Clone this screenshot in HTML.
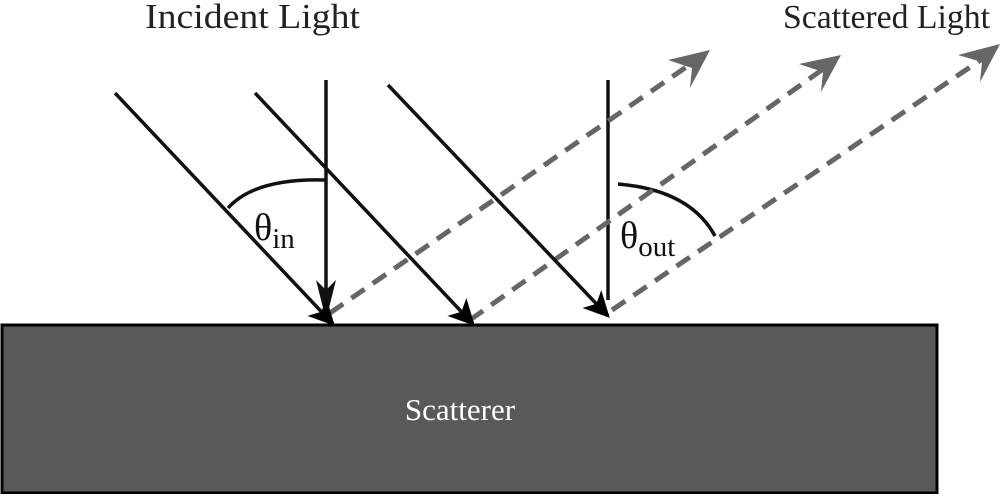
<!DOCTYPE html>
<html><head><style>body{margin:0;background:#fff}</style></head><body>
<svg width="1000" height="494" viewBox="0 0 1000 494" xmlns="http://www.w3.org/2000/svg">
<defs>
<marker id="b" viewBox="0 0 20 20" refX="18" refY="10" markerWidth="30" markerHeight="26" orient="auto" markerUnits="userSpaceOnUse"><path d="M0,0 L20,10 L0,20 L5,10 z" fill="#000"/></marker>
</defs>
<rect x="2" y="325" width="935" height="168" fill="#58595b" stroke="#000" stroke-width="3"/>
<text x="460" y="420" font-family="Liberation Serif,serif" font-size="31" fill="#fff" text-anchor="middle">Scatterer</text>
<text x="145" y="28" font-family="Liberation Serif,serif" font-size="35" fill="#222" textLength="215" lengthAdjust="spacingAndGlyphs">Incident Light</text>
<text x="783" y="28" font-family="Liberation Serif,serif" font-size="34" fill="#222" textLength="207" lengthAdjust="spacingAndGlyphs">Scattered Light</text>
<g stroke="#111" stroke-width="3.5" fill="none">
<line x1="326" y1="80" x2="326" y2="295"/>
<line x1="608" y1="80" x2="608" y2="300"/>
<path d="M228,208 Q255,178 325,180"/>
<path d="M618,184 Q690,190 715,236"/>
</g>
<polygon points="326,320 316,280 326,290 336,280" fill="#111"/>
<g stroke="#666" stroke-width="5" stroke-dasharray="16,10" fill="none">
<line x1="330" y1="313" x2="695" y2="61"/>
<line x1="470" y1="320" x2="826" y2="67"/>
<line x1="612" y1="310" x2="985" y2="57"/>
</g>
<g fill="#666">
<polygon points="710,50 690,88 692,68 668,60"/>
<polygon points="841,55 821,92 823,72 799,64"/>
<polygon points="1000,44 980,82 982,62 958,55"/>
</g>
<g stroke="#111" stroke-width="3.5" fill="none">
<line x1="115" y1="93" x2="333" y2="324" marker-end="url(#b)"/>
<line x1="255" y1="93" x2="473" y2="324" marker-end="url(#b)"/>
<line x1="388" y1="85" x2="608" y2="316" marker-end="url(#b)"/>
</g>
<text x="254" y="240" font-family="Liberation Serif,serif" font-size="38" fill="#111">θ<tspan font-size="29" dy="8">in</tspan></text>
<text x="620" y="248" font-family="Liberation Serif,serif" font-size="38" fill="#111">θ<tspan font-size="29" dy="8">out</tspan></text>
</svg>
</body></html>
